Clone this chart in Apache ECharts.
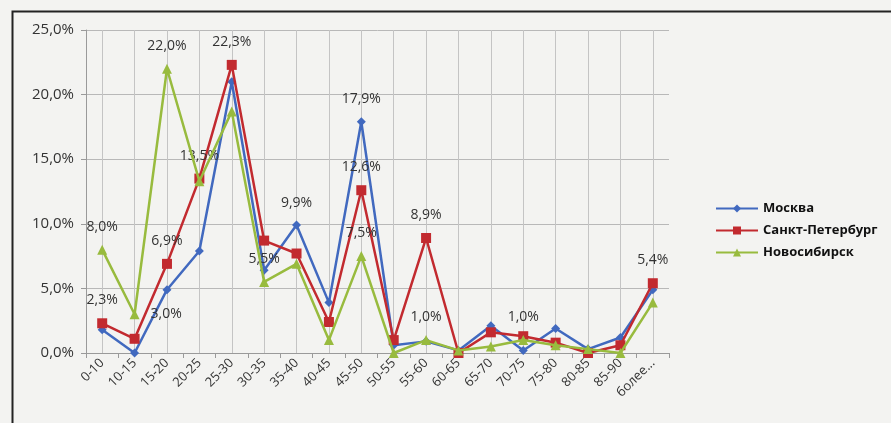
<!DOCTYPE html>
<html>
<head>
<meta charset="utf-8">
<script src="https://cdn.jsdelivr.net/npm/echarts@6/dist/echarts.min.js"></script>
<style>
  html, body { margin: 0; padding: 0; background: #f3f3f1; }
  #chart { width: 891px; height: 423px; }
</style>
</head>
<body>
<div id="chart"></div>
<script>
// возрастные группы
const categories = ['0-10', '10-15', '15-20', '20-25', '25-30', '30-35', '35-40', '40-45', '45-50',
  '50-55', '55-60', '60-65', '65-70', '70-75', '75-80', '80-85', '85-90', 'более...'];

const moscow = [1.8, 0.0, 4.9, 7.9, 21.0, 6.4, 9.9, 3.9, 17.9, 0.6, 0.9, 0.2, 2.1, 0.2, 1.9, 0.3, 1.2, 4.9];
const spb = [2.3, 1.1, 6.9, 13.5, 22.3, 8.7, 7.7, 2.4, 12.6, 1.0, 8.9, 0.0, 1.6, 1.3, 0.8, 0.0, 0.6, 5.4];
const nsk = [8.0, 3.0, 22.0, 13.3, 18.7, 5.5, 6.9, 1.0, 7.5, 0.0, 1.0, 0.2, 0.5, 1.0, 0.6, 0.3, 0.0, 3.9];

const yTicks = [0, 5, 10, 15, 20, 25];

// какие точки подписаны
const labeled = {
  moscow: [6, 8],
  spb: [0, 2, 3, 4, 8, 10, 17],
  nsk: [0, 1, 2, 5, 8, 10, 13]
};

const fmt = v => v.toFixed(1).replace('.', ',') + '%';

const withLabels = (values, idx, side) => values.map((v, i) => {
  if (!idx.includes(i)) return v;
  return {
    value: v,
    label: {
      show: true,
      position: side && side[i] ? side[i] : 'top',
      distance: 11,
      formatter: p => fmt(p.value),
      color: '#333',
      fontSize: 14,
      fontFamily: 'Open Sans'
    }
  };
});

const chart = echarts.init(document.getElementById('chart'));
chart.setOption({
  backgroundColor: '#f3f3f1',
  animation: false,
  graphic: [{
    type: 'rect',
    left: 10, top: 9,
    shape: { width: 1000, height: 1000 },
    style: { fill: 'none', stroke: '#222', lineWidth: 2 },
    silent: true
  }],
  legend: {
    orient: 'vertical',
    left: 710,
    top: 197,
    itemWidth: 42,
    itemHeight: 10,
    itemGap: 9,
    textStyle: {
      color: '#111',
      fontSize: 13,
      fontWeight: 'bold',
      fontFamily: 'Open Sans'
    }
  },
  grid: { left: 86, right: 222, top: 30, bottom: 70 },
  xAxis: {
    type: 'category',
    data: categories,
    boundaryGap: true,
    axisLine: { lineStyle: { color: '#9a9a9a', width: 1 } },
    axisTick: { show: true, length: 5, lineStyle: { color: '#9a9a9a' } },
    splitLine: { show: false },
    axisLabel: {
      rotate: 45,
      interval: 0,
      margin: 8,
      color: '#333',
      fontSize: 13,
      fontFamily: 'Open Sans'
    }
  },
  yAxis: {
    type: 'value',
    min: yTicks[0],
    max: yTicks[yTicks.length - 1],
    interval: 5,
    axisLine: { show: true, lineStyle: { color: '#9a9a9a' } },
    axisTick: { show: true, length: 5, lineStyle: { color: '#9a9a9a' } },
    splitLine: { lineStyle: { color: '#b8b8b8', width: 1 } },
    axisLabel: {
      formatter: v => fmt(v),
      margin: 12,
      color: '#333',
      fontSize: 15,
      fontFamily: 'Open Sans'
    }
  },
  series: [{
    name: 'Москва',
    type: 'line',
    data: withLabels(moscow, labeled.moscow),
    symbol: 'diamond',
    symbolSize: 9,
    itemStyle: { color: '#4169bf' },
    lineStyle: { color: '#4169bf', width: 2.5 },
    markLine: {
      silent: true,
      z: 0,
      symbol: 'none',
      label: { show: false },
      lineStyle: { color: '#c4c4c4', width: 1, type: 'solid' },
      data: categories.map(c => ({ xAxis: c }))
    },
    z: 2
  }, {
    name: 'Санкт-Петербург',
    type: 'line',
    data: withLabels(spb, labeled.spb),
    symbol: 'rect',
    symbolSize: 10,
    itemStyle: { color: '#c22a2f' },
    lineStyle: { color: '#c22a2f', width: 2.5 },
    z: 3
  }, {
    name: 'Новосибирск',
    type: 'line',
    data: withLabels(nsk, labeled.nsk, { 1: 'right' }),
    symbol: 'triangle',
    symbolSize: 10,
    itemStyle: { color: '#98bb3e' },
    lineStyle: { color: '#98bb3e', width: 2.5 },
    z: 4
  }]
});
</script>
</body>
</html>
